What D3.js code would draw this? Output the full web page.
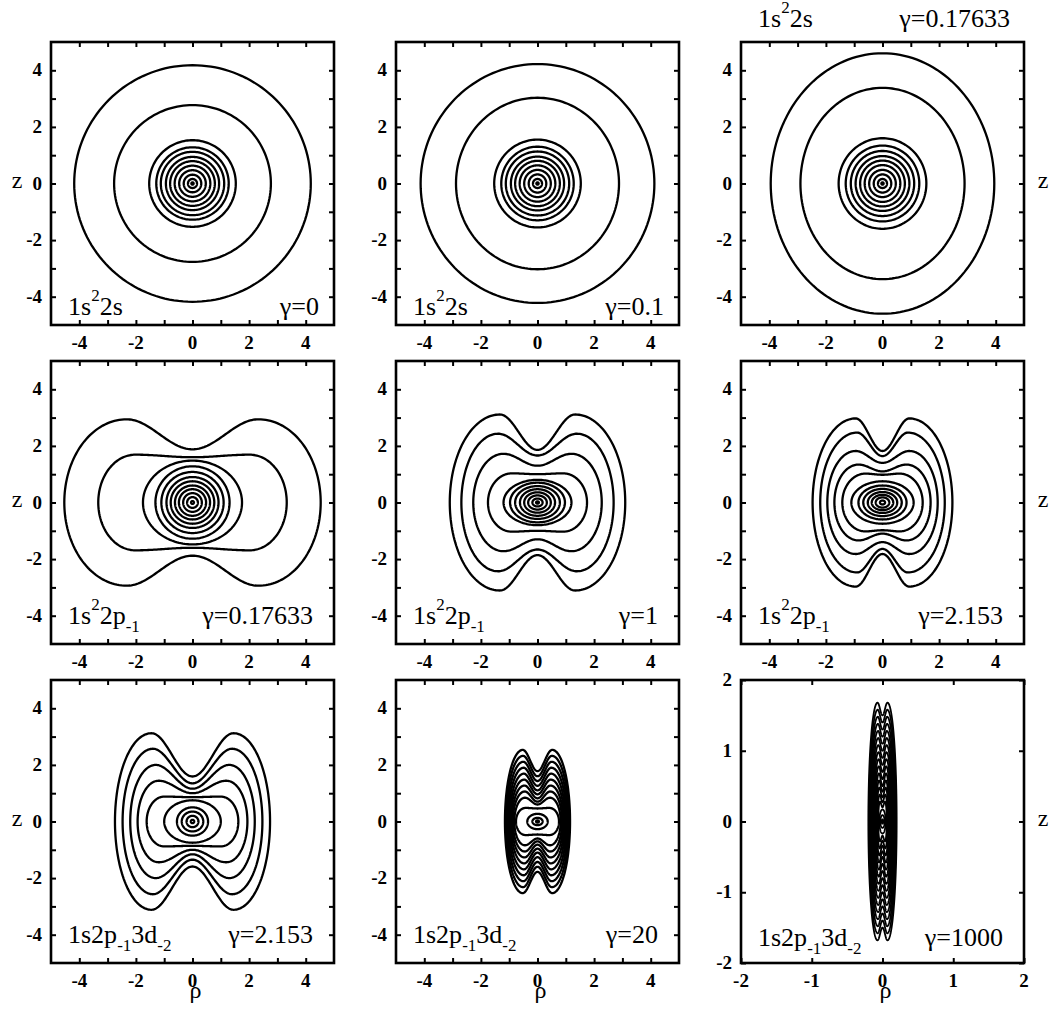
<!doctype html>
<html>
  <head>
    <meta charset="utf-8">
    <title>Density contours in a magnetic field</title>
    <style>
      body {
        margin: 0;
        background: #fff;
      }
      #chart {
        position: relative;
        width: 1050px;
        height: 1016px;
      }
      svg {
        position: absolute;
        left: 0;
        top: 0;
      }
      .lbl {
        position: absolute;
        line-height: 1;
        white-space: nowrap;
        color: #000;
      }
    </style>
  </head>
  <body>
    <div id="chart"></div>

    <script src="https://cdn.jsdelivr.net/npm/d3@7"></script>
    <script>
      // ellipse contour: [rho radius, z radius]
      // two-lobed contour: [rho at z=0, rho of lobe top, z of lobe top, z at rho=0]
      const contours1 = [[4.18, 4.18], [2.77, 2.77], [1.53, 1.53], [1.28, 1.28], [1.12, 1.12], [0.94, 0.94],
        [0.79, 0.79], [0.63, 0.63], [0.47, 0.47], [0.31, 0.31], [0.16, 0.16], [0.04, 0.04]]
      const contours2 = [[4.13, 4.22], [2.88, 3.03], [1.53, 1.55], [1.28, 1.3], [1.12, 1.13], [0.94, 0.95],
        [0.79, 0.8], [0.63, 0.64], [0.47, 0.48], [0.31, 0.32], [0.16, 0.16], [0.04, 0.04]]
      const contours3 = [[3.95, 4.6], [2.9, 3.38], [1.55, 1.6], [1.3, 1.34], [1.12, 1.15], [0.95, 0.97],
        [0.79, 0.81], [0.63, 0.65], [0.47, 0.48], [0.31, 0.32], [0.16, 0.16], [0.04, 0.04]]
      const contours4 = [[4.53, 2.33, 2.94, 1.88], [3.33, 2.02, 1.69, 1.6], [1.75, 1.48], [1.31, 1.28],
        [1.1, 1.08], [0.92, 0.9], [0.77, 0.75], [0.62, 0.6], [0.48, 0.47], [0.33, 0.33], [0.19, 0.19], [0.05, 0.05]]
      const contours5 = [[3.1, 1.33, 3.11, 1.86], [2.69, 1.39, 2.43, 1.66], [2.27, 1.2, 1.72, 1.3],
        [1.75, 0.9, 1.03, 1.0], [1.2, 0.8], [0.97, 0.7], [0.79, 0.58], [0.62, 0.47], [0.47, 0.36],
        [0.33, 0.25], [0.18, 0.14], [0.05, 0.04]]
      const contours6 = [[2.47, 0.95, 2.97, 1.82], [2.2, 0.9, 2.47, 1.64], [1.95, 0.95, 1.82, 1.4],
        [1.7, 0.85, 1.34, 1.1], [1.42, 0.6, 1.02, 0.98], [1.1, 0.75], [0.85, 0.6], [0.68, 0.48],
        [0.52, 0.37], [0.38, 0.27], [0.24, 0.18], [0.09, 0.07]]
      const contours7 = [[2.74, 1.45, 3.12, 1.59], [2.47, 1.4, 2.57, 1.35], [2.2, 1.3, 2.0, 1.16],
        [1.94, 1.2, 1.44, 1.0], [1.62, 1.0, 0.88, 0.86], [1.0, 0.75], [0.55, 0.5], [0.38, 0.35],
        [0.21, 0.2], [0.06, 0.06]]
      const contours8 = [[1.15, 0.52, 2.53, 1.78], [1.11, 0.51, 2.32, 1.6], [1.07, 0.5, 2.11, 1.43],
        [1.03, 0.49, 1.9, 1.26], [0.99, 0.48, 1.69, 1.1], [0.95, 0.47, 1.48, 0.96], [0.91, 0.46, 1.27, 0.82],
        [0.87, 0.45, 1.06, 0.7], [0.82, 0.44, 0.84, 0.6], [0.76, 0.42, 0.48, 0.46], [0.36, 0.27],
        [0.18, 0.13], [0.05, 0.04]]
      const contours9 = [[0.2, 0.07, 1.68, 1.5], [0.19, 0.068, 1.58, 1.4], [0.18, 0.066, 1.48, 1.3],
        [0.17, 0.064, 1.38, 1.2], [0.16, 0.062, 1.28, 1.1], [0.15, 0.06, 1.18, 1.0], [0.14, 0.058, 1.08, 0.9],
        [0.13, 0.056, 0.98, 0.8], [0.12, 0.054, 0.88, 0.7], [0.11, 0.052, 0.78, 0.6], [0.1, 0.05, 0.68, 0.5],
        [0.09, 0.048, 0.58, 0.42], [0.08, 0.045, 0.48, 0.34], [0.07, 0.04, 0.38, 0.27],
        [0.06, 0.035, 0.28, 0.2], [0.045, 0.17], [0.03, 0.09], [0.012, 0.03]]
      const contourSets = [contours1, contours2, contours3, contours4, contours5, contours6,
        contours7, contours8, contours9]

      const state2s = [['1s'], ['2', 'sup'], ['2s']]
      const state2p = [['1s'], ['2', 'sup'], ['2p'], ['-1', 'sub']]
      const state3d = [['1s2p'], ['-1', 'sub'], ['3d'], ['-2', 'sub']]
      const states = [state2s, state2s, state2s, state2p, state2p, state2p, state3d, state3d, state3d]
      const gammas = ['γ=0', 'γ=0.1', 'γ=0.17633', 'γ=0.17633', 'γ=1', 'γ=2.153', 'γ=2.153', 'γ=20', 'γ=1000']

      const halfRanges = [5, 5, 5, 5, 5, 5, 5, 5, 2]
      const ticksWide = [-4, -3, -2, -1, 0, 1, 2, 3, 4]
      const labelsWide = [-4, -2, 0, 2, 4]
      const ticksNarrow = [-2, -1, 0, 1, 2]
      const labelsNarrow = [-2, -1, 0, 1, 2]

      const width = 1050
      const height = 1016
      const size = 283
      const colX = [51, 396, 741]
      const rowY = [42, 361, 680]

      const root = d3.select('#chart')
      const svg = root.append('svg')
        .attr('width', width)
        .attr('height', height)

      // html text, placed by its baseline
      const put = (x, base, fontSize, anchor, parts, weight) => {
        const div = root.append('div')
          .attr('class', 'lbl')
          .style('font-family', '"Liberation Serif"')
          .style('left', `${x}px`)
          .style('top', `${base - 0.84 * fontSize}px`)
          .style('font-size', `${fontSize}px`)
          .style('font-weight', weight || 'normal')
          .style('transform', anchor === 'end' ? 'translateX(-100%)' : anchor === 'middle' ? 'translateX(-50%)' : null)
        parts.forEach(([t, kind]) => {
          const s = div.append('span')
            .style('font-family', '"Liberation Serif"')
            .text(t)
          if (kind) {
            s.style('font-size', '17px')
              .style('position', 'relative')
              .style('top', kind === 'sup' ? '-14px' : '8px')
          }
        })
      }

      // closed outline from one quadrant, mirrored round both axes
      const outline = c => {
        const [w, pr, pz, wz] = c.length === 2 ? [c[0], 0, c[1], c[1]] : c
        const n = 40
        const q = []
        for (let i = 0; i <= n; i++) {
          const t = i / n * Math.PI / 2
          q.push([pr + (w - pr) * Math.cos(t), pz * Math.sin(t)])
        }
        if (pr > 0) {
          for (let i = 1; i <= n; i++) {
            const s = i / n
            q.push([pr * (1 - s), wz + (pz - wz) * (1 + Math.cos(Math.PI * s)) / 2])
          }
        }
        const back = q.slice().reverse()
        return [
          ...q,
          ...back.slice(1).map(([r, z]) => [-r, z]),
          ...q.slice(1).map(([r, z]) => [-r, -z]),
          ...back.slice(1, -1).map(([r, z]) => [r, -z])
        ]
      }

      contourSets.forEach((set, i) => {
        const col = i % 3
        const row = Math.floor(i / 3)
        const left = colX[col]
        const top = rowY[row]
        const D = halfRanges[i]
        const ticks = D === 2 ? ticksNarrow : ticksWide
        const labels = D === 2 ? labelsNarrow : labelsWide

        const x = d3.scaleLinear().domain([-D, D]).range([0, size])
        const y = d3.scaleLinear().domain([-D, D]).range([size, 0])

        const g = svg.append('g')
          .attr('transform', `translate(${left},${top})`)

        const line = d3.line()
          .x(d => x(d[0]))
          .y(d => y(d[1]))
          .curve(d3.curveLinearClosed)

        g.append('g').selectAll('path')
          .data(set)
          .join('path')
            .attr('d', c => line(outline(c)))
            .attr('fill', 'none')
            .attr('stroke', '#000')
            .attr('stroke-width', i === 8 ? 1.8 : 2.3)

        const axes = [
          [d3.axisBottom(x), `translate(0,${size})`],
          [d3.axisLeft(y), null],
          [d3.axisTop(x), null],
          [d3.axisRight(y), `translate(${size},0)`]
        ]
        axes.forEach(([axis, tr]) => {
          const a = g.append('g')
            .attr('transform', tr)
            .call(axis.tickValues(ticks).tickFormat('').tickSizeInner(-5).tickSizeOuter(0))
          a.select('.domain').remove()
          a.selectAll('.tick line').attr('stroke-width', 2)
        })

        g.append('rect')
          .attr('width', size)
          .attr('height', size)
          .attr('fill', 'none')
          .attr('stroke', '#000')
          .attr('stroke-width', 2.6)

        // tick labels
        labels.forEach(v => {
          put(left + x(v), top + size + 24, 19, 'middle', [[String(v)]], 'bold')
          put(left - 9, top + y(v) + 6, 19, 'end', [[String(v)]], 'bold')
        })

        const above = i === 2
        const base = top + (above ? -14 : row === 0 ? size - 9 : i === 8 ? size - 16 : size - 19)
        put(left + 17, base, 26, 'start', states[i])
        const rightInset = above ? 14 : row === 0 ? 15 : 21
        put(left + size - rightInset, base, 26, 'end', [[gammas[i]]])

        if (col === 0) put(17, top + y(0) + 5, 24, 'middle', [['z']])
        if (col === 2) put(left + size + 19, top + y(0) + 5, 24, 'middle', [['z']])
        if (row === 2) put(left + x(0) + 3, top + size + 35, 24, 'middle', [['ρ']])
      })
    </script>
  </body>
</html>
